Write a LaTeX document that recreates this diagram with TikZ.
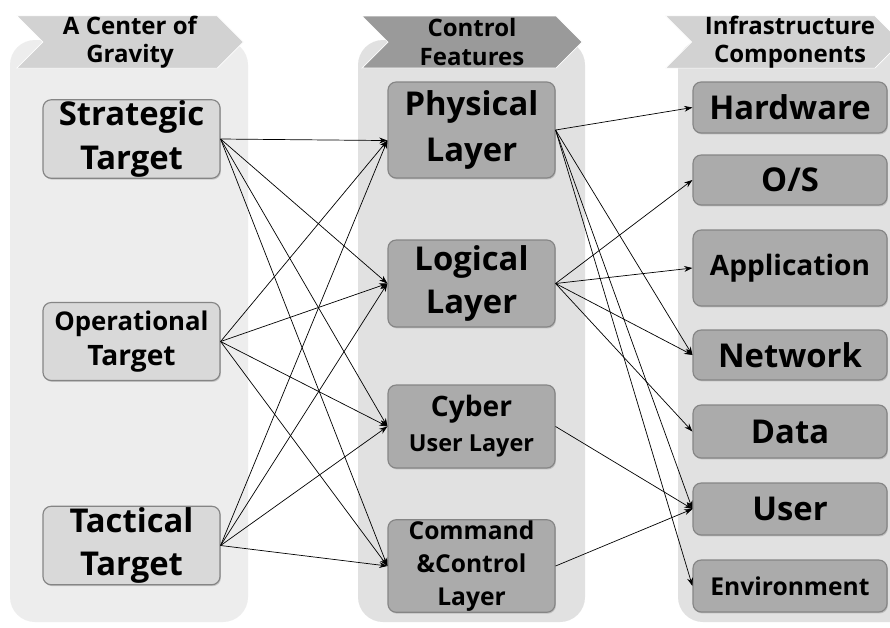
\documentclass[tikz,border=0pt]{standalone}
\usepackage{fontspec}
\setmainfont{Open Sans}
\usepackage{tikz}
\usetikzlibrary{shapes.symbols, arrows.meta, shadows}
\definecolor{panelL}{HTML}{EDEDED}
\definecolor{panelD}{HTML}{E1E1E1}
\definecolor{boxL}{HTML}{D9D9D9}
\definecolor{boxD}{HTML}{ABABAB}
\definecolor{bannerL}{HTML}{D2D2D2}
\definecolor{bannerD}{HTML}{9A9A9A}
\definecolor{rim}{HTML}{858585}
\newcommand{\fsBig}{\fontsize{28}{37}\selectfont}
\newcommand{\fsMid}{\fontsize{24}{30}\selectfont}
\newcommand{\fsSmall}{\fontsize{21}{28}\selectfont}
\newcommand{\fsHead}{\fontsize{20.5}{24}\selectfont}
\tikzstyle{panel} = [rounded corners=0.75cm]
\tikzstyle{banner} = [shape=signal, signal from=west, signal to=east, signal pointer angle=90, minimum height=1.56cm, minimum width=6.8cm, inner sep=0pt, align=center, font=\bfseries\fsHead, draw=white, line width=0.6pt]
\tikzstyle{boxbase} = [rectangle, rounded corners=7pt, draw=rim, line width=1pt, align=center, text centered, inner sep=1pt, drop shadow={opacity=0.35, shadow xshift=0.8pt, shadow yshift=-1.2pt}]
\tikzstyle{target} = [boxbase, fill=boxL, minimum width=5.31cm, minimum height=2.34cm]
\tikzstyle{layer} = [boxbase, fill=boxD, minimum width=5.01cm]
\tikzstyle{part} = [boxbase, fill=boxD, minimum width=5.82cm]
\tikzstyle{arrow} = [-{Stealth[length=7pt,width=5pt]}, line width=0.6pt]

\begin{document}
\begin{tikzpicture}
    \clip (0,0) rectangle (26.7,-18.81);
    \fill [white] (0,0) rectangle (26.7,-18.81);

    % column panels
    \fill [panelL, panel] (0.3,-1.2) rectangle (7.44,-18.66);
    \fill [panelD, panel] (10.74,-1.2) rectangle (17.55,-18.66);
    \fill [panelD, panel] (20.34,-1.2) rectangle (27.5,-18.66);

    % column headings
    \node (hdgrav) [banner, fill=bannerL] at (3.9,-1.26) {A Center of\\Gravity};
    \node (hdctrl) [banner, fill=bannerD, minimum width=6.6cm] at (14.16,-1.26) {Control\\Features};
    \node (hdinfra) [banner, fill=bannerL, minimum width=6.55cm] at (23.5,-1.26) {\hspace{0.4cm}Infrastructure\\\hspace{0.4cm}Components};

    % centers of gravity
    \node (strat) [target, font=\bfseries\fsBig] at (3.945,-4.17) {Strategic\\Target};
    \node (oper) [target, font=\bfseries\fsMid] at (3.945,-10.245) {{\fontsize{22}{30}\selectfont Operational}\\Target};
    \node (tact) [target, font=\bfseries\fsBig] at (3.945,-16.365) {Tactical\\Target};

    % control features
    \node (phys) [layer, minimum height=2.88cm, font=\bfseries\fontsize{28}{39}\selectfont] at (14.145,-3.9) {Physical\\Layer};
    \node (logi) [layer, minimum height=2.61cm, font=\bfseries\fsBig] at (14.145,-8.505) {Logical\\Layer};
    \node (cyber) [layer, minimum height=2.49cm, font=\bfseries\fsMid] at (14.145,-12.795) {Cyber\\{\fontsize{20}{27}\selectfont User Layer}};
    \node (cmd) [layer, minimum height=2.64cm, font=\bfseries\fsSmall] at (14.145,-16.98) {Command\\\&Control\\Layer};

    % infrastructure components
    \node (hw) [part, minimum height=1.53cm, font=\bfseries\fsBig] at (23.7,-3.225) {Hardware};
    \node (os) [part, minimum height=1.5cm, font=\bfseries\fsBig] at (23.7,-5.4) {O/S};
    \node (app) [part, minimum height=2.28cm, font=\bfseries\fsMid] at (23.7,-8.04) {Application};
    \node (net) [part, minimum height=1.5cm, font=\bfseries\fsBig] at (23.7,-10.65) {Network};
    \node (data) [part, minimum height=1.59cm, font=\bfseries\fsBig] at (23.7,-12.945) {Data};
    \node (user) [part, minimum height=1.56cm, font=\bfseries\fsBig] at (23.7,-15.27) {User};
    \node (env) [part, minimum height=1.56cm, font=\bfseries\fsSmall] at (23.7,-17.58) {Environment};

    % targets to layers
    \foreach \src in {strat, oper, tact} {
        \draw [arrow] (\src.east) -- ([yshift=-9pt]phys.west);
        \draw [arrow] (\src.east) -- (logi.west);
        \draw [arrow] (\src.east) -- (cyber.west);
        \draw [arrow] (\src.east) -- (cmd.west);
    }

    % layers to components
    \draw [arrow] (phys.east) -- (hw.west);
    \draw [arrow] (phys.east) -- (net.west);
    \draw [arrow] (phys.east) -- (user.west);
    \draw [arrow] (phys.east) -- (env.west);
    \draw [arrow] (logi.east) -- (os.west);
    \draw [arrow] (logi.east) -- (app.west);
    \draw [arrow] (logi.east) -- (net.west);
    \draw [arrow] (logi.east) -- (data.west);
    \draw [arrow] (cyber.east) -- (user.west);
    \draw [arrow] (cmd.east) -- (user.west);
\end{tikzpicture}
\end{document}
